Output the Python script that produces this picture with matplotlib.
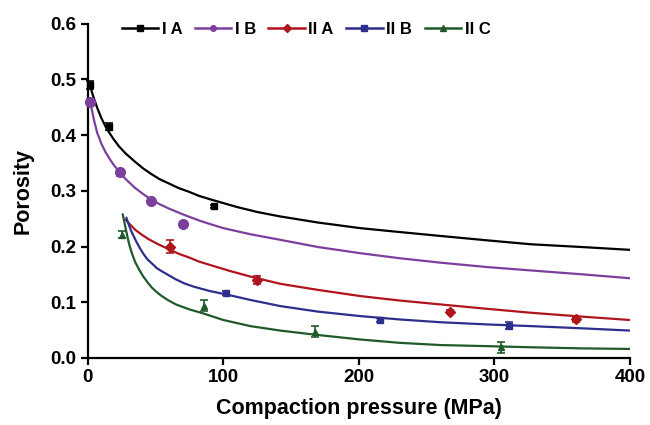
import matplotlib
matplotlib.use("Agg")
import matplotlib.pyplot as plt
from matplotlib.lines import Line2D

plt.rcParams['font.family'] = ['Liberation Sans', 'DejaVu Sans']
plt.rcParams['font.weight'] = 'bold'

# measured porosity (mean, sd) for each formulation
ia_p = [2, 16, 93]
ia_y = [0.490, 0.415, 0.272]
ia_err = [0.008, 0.006, 0.003]

ib_p = [2, 24, 47, 70]
ib_y = [0.460, 0.333, 0.282, 0.241]
ib_err = [0.005, 0.006, 0.004, 0.003]

iia_p = [61, 125, 267, 360]
iia_y = [0.200, 0.140, 0.083, 0.069]
iia_err = [0.012, 0.007, 0.003, 0.004]

iib_p = [102, 216, 311]
iib_y = [0.116, 0.068, 0.058]
iib_err = [0.004, 0.003, 0.006]

iic_p = [25, 86, 168, 305]
iic_y = [0.221, 0.094, 0.047, 0.019]
iic_err = [0.006, 0.010, 0.010, 0.010]

# fitted compaction curves
ia_fit_p = [2, 3, 4, 5, 7, 10, 13, 16, 19, 23, 28, 35, 41, 47, 53, 60, 67, 75, 82, 90, 100,
            110, 125, 142, 170, 201, 230, 260, 295, 327, 365, 400]
ia_fit_y = [0.488, 0.478, 0.470, 0.463, 0.449, 0.431, 0.416, 0.404, 0.393, 0.380, 0.367, 0.352,
            0.340, 0.330, 0.321, 0.313, 0.305, 0.298, 0.291, 0.285, 0.278, 0.271, 0.262, 0.254,
            0.243, 0.233, 0.226, 0.219, 0.211, 0.204, 0.199, 0.194]

ib_fit_p = [2, 3, 4, 5, 7, 10, 13, 16, 19, 23, 28, 35, 41, 47, 53, 60, 66, 72, 83, 92, 100,
            120, 142, 170, 201, 230, 260, 295, 327, 365, 400]
ib_fit_y = [0.460, 0.446, 0.434, 0.423, 0.404, 0.385, 0.370, 0.358, 0.347, 0.335, 0.321, 0.305,
            0.294, 0.284, 0.276, 0.268, 0.262, 0.256, 0.246, 0.239, 0.233, 0.222, 0.212, 0.199,
            0.188, 0.179, 0.171, 0.163, 0.157, 0.150, 0.143]

iia_fit_p = [28, 31, 35, 40, 45, 52, 60, 67, 75, 82, 90, 105, 120, 142, 170, 201, 230, 260,
             295, 327, 365, 400]
iia_fit_y = [0.248, 0.240, 0.230, 0.221, 0.213, 0.204, 0.195, 0.187, 0.180, 0.173, 0.167, 0.156,
             0.146, 0.133, 0.122, 0.111, 0.103, 0.096, 0.088, 0.081, 0.074, 0.068]

iib_fit_p = [28.5, 30, 32, 34, 36, 38.5, 41, 44, 48, 51, 55, 60, 65, 71, 78, 90, 102, 120, 142,
             170, 201, 230, 260, 295, 327, 365, 400]
iib_fit_y = [0.252, 0.241, 0.228, 0.218, 0.208, 0.197, 0.187, 0.177, 0.168, 0.161, 0.155, 0.148,
             0.141, 0.134, 0.128, 0.120, 0.114, 0.104, 0.093, 0.083, 0.075, 0.069, 0.064, 0.060,
             0.057, 0.053, 0.049]

iic_fit_p = [25.8, 27, 28, 29.5, 31, 33, 35, 38, 41, 44, 47, 50, 54, 59, 65, 75, 85, 100, 120,
             142, 170, 201, 230, 260, 295, 327, 365, 400]
iic_fit_y = [0.258, 0.244, 0.232, 0.215, 0.200, 0.185, 0.172, 0.158, 0.146, 0.136, 0.127, 0.120,
             0.112, 0.104, 0.096, 0.087, 0.080, 0.068, 0.057, 0.049, 0.041, 0.033, 0.027, 0.023,
             0.021, 0.019, 0.017, 0.016]

labels = ['I A', 'I B', 'II A', 'II B', 'II C']
colors = ['#000000', '#7d3f9e', '#b0141c', '#2e2f8c', '#1f5a2a']
markers = ['s', 'o', 'D', 's', '^']
msizes = [4, 7, 5, 5, 5]

points = [(ia_p, ia_y, ia_err), (ib_p, ib_y, ib_err), (iia_p, iia_y, iia_err),
          (iib_p, iib_y, iib_err), (iic_p, iic_y, iic_err)]
fits = [(ia_fit_p, ia_fit_y), (ib_fit_p, ib_fit_y), (iia_fit_p, iia_fit_y),
        (iib_fit_p, iib_fit_y), (iic_fit_p, iic_fit_y)]

fig = plt.figure(figsize=(6.5, 4.25), dpi=100)
ax = fig.add_axes([0.135, 0.158, 0.834, 0.786])

for (fp, fy), (p, y, e), c, m, ms in zip(fits, points, colors, markers, msizes):
    ax.plot(fp, fy, color=c, lw=1.6, solid_capstyle='round', solid_joinstyle='round', zorder=2)
    ax.errorbar(p, y, yerr=e, fmt=m, color=c, ms=ms, capsize=3, elinewidth=1.2,
                capthick=1.2, zorder=3, clip_on=False)

handles = [Line2D([0], [0], color=c, lw=1.8, marker=m, ms=4) for c, m in zip(colors, markers)]
ax.legend(handles, labels, ncol=5, loc='upper left', bbox_to_anchor=(0.05, 1.025),
          frameon=False, fontsize=12, handlelength=2.2, handletextpad=0.2,
          columnspacing=0.75, borderaxespad=0)

ax.set_xlim(0, 400)
ax.set_ylim(0, 0.6)
ax.set_xticks([0, 100, 200, 300, 400])
ax.set_yticks([0.0, 0.1, 0.2, 0.3, 0.4, 0.5, 0.6])
ax.set_yticklabels(['0.0', '0.1', '0.2', '0.3', '0.4', '0.5', '0.6'])

for side in ['top', 'right']:
    ax.spines[side].set_visible(False)
for side in ['left', 'bottom']:
    ax.spines[side].set_linewidth(1.6)
ax.tick_params(direction='out', length=5, width=1.6, labelsize=13.5, pad=3)

ax.set_xlabel('Compaction pressure (MPa)', fontsize=15.5, fontweight='bold', labelpad=9)
ax.set_ylabel('Porosity', fontsize=15.5, fontweight='bold', labelpad=12)

fig.savefig('out.png', dpi=100)
